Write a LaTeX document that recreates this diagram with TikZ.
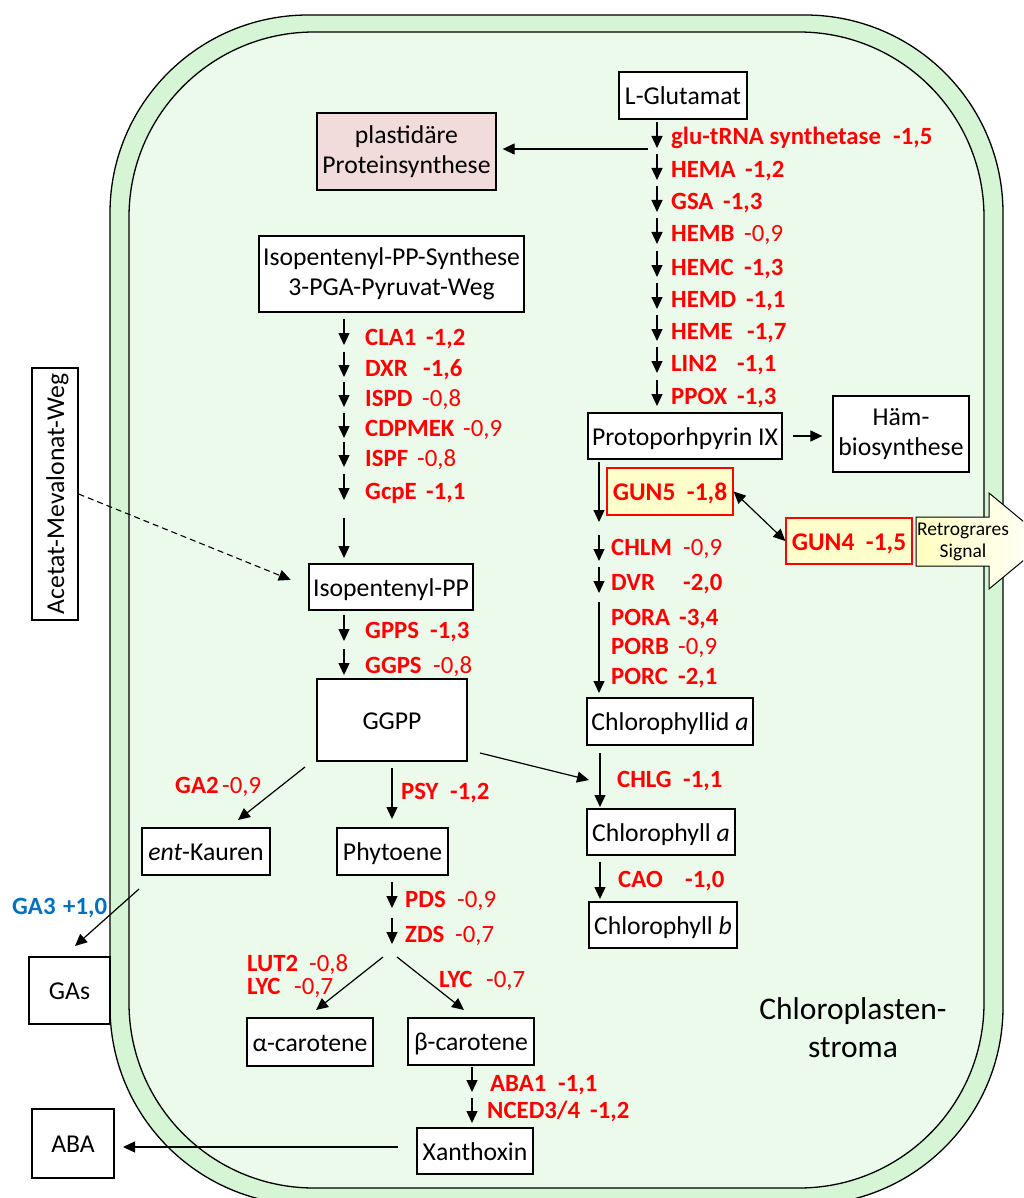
\documentclass[tikz,border=0pt]{standalone}
\usepackage{fontspec}
\setmainfont{Carlito}
\usetikzlibrary{arrows.meta,calc}
\definecolor{band}{HTML}{D5F5D5}
\definecolor{stromafill}{HTML}{EBFAEB}
\definecolor{pinkbox}{HTML}{F2DCDB}
\definecolor{gunfill}{HTML}{FFFFCC}
\definecolor{enzred}{HTML}{FF0000}
\definecolor{enzblue}{HTML}{0070C0}
\definecolor{signalfill}{HTML}{FFFFC0}
\newcommand\mkbox[7][box]{\node[#1,minimum width={#5pt-#3pt},minimum height={#6pt-#4pt}] (#2) at ({(#3+#5)/2},{(#4+#6)/2}) {#7};}
\newcommand\enz[6]{\node[lab] (#1) at (#2,#3+8) {\textbf{#4}};\node[lab] (#1v) at (#5,#3+8) {#6};}
\newcommand\stp[4]{\coordinate (#1a) at (#2,#3);\coordinate (#1b) at (#2,#4);\draw[arr] (#1a) -- (#1b);}
\begin{document}
\begin{tikzpicture}[x=1pt,y=-1pt,
  boxml/.style={draw=black,fill=white,line width=1.3pt,inner sep=0pt,align=center,font=\fontsize{25.7}{30}\selectfont},
  box/.style={boxml,text height=20pt,text depth=2pt},
  gunbox/.style={box,draw=enzred,fill=gunfill,text=enzred,font=\fontsize{25.5}{30}\selectfont\bfseries},
  lab/.style={anchor=base west,inner sep=0pt,text=enzred,font=\fontsize{24.8}{30}\selectfont},
  arr/.style={line width=1.2pt,-{Triangle[length=12pt,width=11pt]}},
  arrd/.style={line width=1.2pt,{Triangle[length=12pt,width=11pt]}-{Triangle[length=12pt,width=11pt]}}]
\useasboundingbox (0,0) rectangle (1023,1198);
\clip (0,0) rectangle (1023,1198);
% membrane
\draw[line width=1.3pt,fill=band,rounded corners=198pt] (110,15) rectangle (1003,1205);
\draw[line width=1.3pt,fill=stromafill,rounded corners=185pt] (129,32) rectangle (984,1188);
% boxes
\mkbox{glut}{619}{72}{747}{119}{L-Glutamat}
\mkbox[boxml,fill=pinkbox]{plast}{317}{113}{496}{190}{plastidäre\\Proteinsynthese}
\mkbox[boxml]{ipps}{259}{236}{524}{312}{Isopentenyl-PP-Synthese\\3-PGA-Pyruvat-Weg}
\mkbox{ipp}{309}{564}{473}{610}{Isopentenyl-PP}
\node[box,rotate=90,minimum width=252pt,minimum height=46pt] (acetat) at (55,494) {Acetat-Mevalonat-Weg};
\mkbox{ggpp}{317}{679}{467}{761}{GGPP}
\mkbox{entk}{142}{828}{270}{875}{\textit{ent}-Kauren}
\mkbox{phyt}{337}{828}{448}{875}{Phytoene}
\mkbox{gas}{29}{957}{110}{1024}{GAs}
\mkbox{acar}{247}{1018}{373}{1066}{α-carotene}
\mkbox{bcar}{408}{1018}{534}{1065}{β-carotene}
\mkbox{xan}{417}{1128}{533}{1174}{Xanthoxin}
\mkbox{aba}{32}{1109}{114}{1178}{ABA}
\mkbox{ppix}{588}{413}{782}{459}{Protoporhpyrin IX}
\mkbox[boxml]{haem}{833}{396}{969}{472}{Häm-\\biosynthese}
\mkbox[gunbox]{gun5}{607}{468}{733}{515}{GUN5\ \ -1,8}
\mkbox[gunbox]{gun4}{786}{518}{912}{564}{GUN4\ \ -1,5}
\mkbox{chlid}{587}{698}{753}{745}{Chlorophyllid \textit{a}}
\mkbox{chla}{587}{809}{735}{855}{Chlorophyll \textit{a}}
\mkbox{chlb}{589}{902}{737}{948}{Chlorophyll \textit{b}}
% retrograde signal arrow
\draw[line width=1pt,left color=signalfill,right color=white] (916,517) -- (989,517) -- (989,493) -- (1047,541) -- (989,589) -- (989,566) -- (916,566) -- cycle;
\node[inner sep=0pt,align=center,font=\fontsize{19.5}{22}\selectfont] (signal) at (963,542) {Retrograres\\Signal};
\node[inner sep=0pt,align=center,font=\fontsize{31.5}{38}\selectfont] (stroma) at (853,1028) {Chloroplasten-\\stroma};
% glutamate column
\stp{s1}{657}{122}{148}\enz{glu}{671}{137}{glu-tRNA synthetase}{893}{\textbf{-1,5}}
\stp{s2}{657}{154}{180}\enz{hema}{671}{170}{HEMA}{745}{\textbf{-1,2}}
\stp{s3}{657}{186}{212}\enz{gsa}{671}{202}{GSA}{723}{\textbf{-1,3}}
\stp{s4}{657}{218}{244}\enz{hemb}{671}{234}{HEMB}{744}{-0,9}
\stp{s5}{657}{251}{277}\enz{hemc}{671}{267}{HEMC}{744}{\textbf{-1,3}}
\stp{s6}{657}{283}{309}\enz{hemd}{671}{299}{HEMD}{746}{\textbf{-1,1}}
\stp{s7}{657}{315}{341}\enz{heme}{671}{331}{HEME}{747}{\textbf{-1,7}}
\stp{s8}{657}{347}{373}\enz{lin}{671}{363}{LIN2}{737}{\textbf{-1,1}}
\stp{s9}{657}{380}{406}\enz{ppox}{671}{396}{PPOX}{737}{\textbf{-1,3}}
\coordinate (pq) at (648,149);
\draw[arr,shorten >=6pt] (pq) -- (pq -| plast.east);
% isoprenoid column
\stp{i1}{344}{319}{345}\enz{cla}{365}{337}{CLA1}{426}{\textbf{-1,2}}
\stp{i2}{344}{352}{377}\enz{dxr}{365}{368}{DXR}{423}{\textbf{-1,6}}
\stp{i3}{344}{382}{407}\enz{ispd}{365}{398}{ISPD}{422}{-0,8}
\stp{i4}{344}{413}{438}\enz{cdp}{365}{428}{CDPMEK}{463}{-0,9}
\stp{i5}{344}{442}{467}\enz{ispf}{365}{458}{ISPF}{417}{-0,8}
\stp{i6}{344}{474}{500}\enz{gcpe}{365}{491}{GcpE}{426}{\textbf{-1,1}}
\stp{i7}{344}{518}{558}
\stp{i8}{344}{615}{641}\enz{gpps}{365}{630}{GPPS}{430}{\textbf{-1,3}}
\stp{i9}{344}{649}{675}\enz{ggps}{365}{665}{GGPS}{433}{-0,8}
\draw[arr,dash pattern=on 6pt off 4pt,line width=1.1pt,shorten >=19pt] (acetat.south) -- (ipp.west);
% chlorophyll column
\stp{p1}{599}{462}{522}
\stp{p2}{599}{535}{561}\enz{chlm}{611}{547}{CHLM}{683}{-0,9}
\stp{p3}{599}{567}{593}\enz{dvr}{611}{582}{DVR}{683}{\textbf{-2,0}}
\stp{p4}{599}{602}{693}\enz{pora}{611}{617}{PORA}{679}{\textbf{-3,4}}
\enz{porb}{611}{646}{PORB}{678}{-0,9}
\enz{porc}{611}{676}{PORC}{678}{\textbf{-2,1}}
\stp{p5}{600}{753}{807}\enz{chlg}{617}{779}{CHLG}{683}{\textbf{-1,1}}
\stp{p6}{600}{862}{899}\enz{cao}{618}{879}{CAO}{685}{\textbf{-1,0}}
\draw[arr] ([xshift=10pt]ppix.east) -- ([xshift=-10pt]ppix.east -| haem.west);
\draw[arrd] (gun5.east) -- (gun4.west);
\coordinate (ga) at (480,753); \coordinate (gb) at (589,780);
\draw[arr] (ga) -- (gb);
% carotenoid branch
\stp{c1}{392}{768}{819}\enz{psy}{401}{791}{PSY}{450}{\textbf{-1,2}}
\stp{c2}{392}{882}{908}\enz{pds}{405}{899}{PDS}{457}{-0,9}
\stp{c3}{392}{918}{944}\enz{zds}{405}{934}{ZDS}{455}{-0,7}
\enz{lut}{247}{963}{LUT2}{309}{-0,8}
\enz{lyca}{247}{986}{LYC}{294}{-0,7}
\enz{lycb}{439}{979}{LYC}{486}{-0,7}
\enz{ga2}{175}{785}{GA2}{222}{-0,9}
\node[lab,text=enzblue] (ga3) at (12,914) {\textbf{GA3}};
\node[lab,text=enzblue] (ga3v) at (63,914) {\textbf{+1,0}};
\coordinate (k1) at (305,767); \coordinate (k2) at (238,820);
\draw[arr] (k1) -- (k2);
\coordinate (g1) at (139,889); \coordinate (g2) at (75,946);
\draw[arr] (g1) -- (g2);
\coordinate (z1) at (383,957); \coordinate (z2) at (316,1010);
\draw[arr] (z1) -- (z2);
\coordinate (z3) at (397,957); \coordinate (z4) at (464,1010);
\draw[arr] (z3) -- (z4);
\stp{a1}{472}{1067}{1092}\enz{aba1}{490}{1083}{ABA1}{558}{\textbf{-1,1}}
\stp{a2}{472}{1098}{1123}\enz{nced}{487}{1110}{NCED3/4}{590}{\textbf{-1,2}}
\coordinate (x1) at (398,1147); \coordinate (x2) at (123,1147);
\draw[arr] (x1) -- (x2);
\end{tikzpicture}
\end{document}
